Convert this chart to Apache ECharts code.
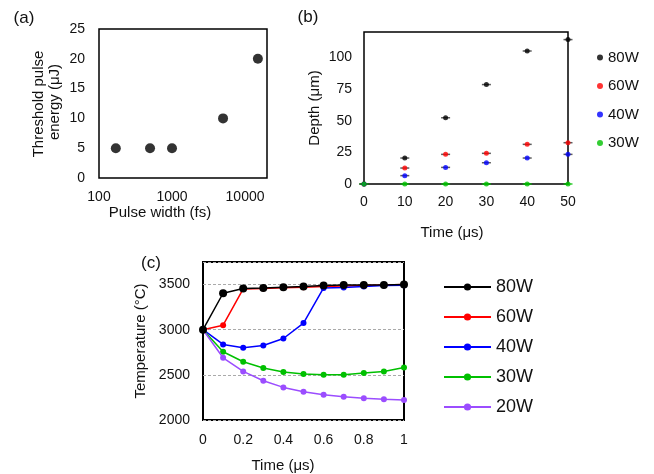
<!DOCTYPE html>
<html><head><meta charset="utf-8">
<script src="https://cdn.jsdelivr.net/npm/echarts@6/dist/echarts.min.js"></script>
<style>html,body{margin:0;padding:0;background:#fff}#c{width:654px;height:474px}</style>
</head><body><div id="c"></div>
<script>
// (a) threshold pulse energy vs pulse width
const pulseWidth = [170, 500, 1000, 5000, 15000];
const thresholdEnergy = [5, 5, 5, 10, 20];
// (b) depth vs time
const timeB = [0, 10, 20, 30, 40, 50];
const depth80 = [0, 20.5, 52.3, 78.5, 105, 114];
const depth60 = [0, 12.6, 23.4, 24.2, 31.3, 32.6];
const depth40 = [0, 6.6, 13.1, 16.8, 20.5, 23.4];
const depth30 = [0, 0, 0, 0, 0, 0];
// (c) temperature vs time
const timeC = [0, 0.1, 0.2, 0.3, 0.4, 0.5, 0.6, 0.7, 0.8, 0.9, 1.0];
const temp80 = [3000, 3404, 3456, 3463, 3471, 3478, 3489, 3496, 3496, 3496, 3500];
const temp60 = [3000, 3050, 3452, 3456, 3465, 3470, 3478, 3485, 3490, 3495, 3500];
const temp40 = [3000, 2837, 2800, 2826, 2903, 3073, 3463, 3467, 3478, 3489, 3493];
const temp30 = [3000, 2756, 2645, 2575, 2531, 2509, 2501, 2501, 2520, 2538, 2582];
const temp20 = [3000, 2689, 2538, 2435, 2361, 2313, 2280, 2258, 2240, 2229, 2221];
const powerNames = ['80W', '60W', '40W', '30W', '20W'];
const colors = ['#000000', '#ff0000', '#0000ff', '#00c000', '#9b4dff'];

const FONT = 'Liberation Sans, Arial, sans-serif';
const TXT = '#111';
const zip = (xs, ys) => xs.map((x, i) => [x, ys[i]]);
const fmt = v => String(Math.round(v * 1000) / 1000);

const chart = echarts.init(document.getElementById('c'), null, {renderer: 'canvas'});

const gridBase = {show: true, borderColor: '#000', borderWidth: 1.5, backgroundColor: 'transparent', containLabel: false, outerBoundsMode: 'none'};
const labelBase = {color: TXT, fontSize: 14, fontFamily: FONT};

const depthSets = [depth80, depth60, depth40, depth30];
const tempSets = [temp80, temp60, temp40, temp30, temp20];

const series = [];
// (a)
series.push({type: 'scatter', xAxisIndex: 0, yAxisIndex: 0, symbolSize: 10, itemStyle: {color: '#000'}, data: zip(pulseWidth, thresholdEnergy)});
// (b) small horizontal error dashes then dots
depthSets.forEach((d, i) => {
  series.push({type: 'scatter', name: 'bar' + i, xAxisIndex: 1, yAxisIndex: 1, symbol: 'rect', symbolSize: [9, 1.5], itemStyle: {color: i === 3 ? colors[3] : '#333'}, data: zip(timeB, d), z: 2});
});
depthSets.forEach((d, i) => {
  series.push({type: 'scatter', name: powerNames[i], xAxisIndex: 1, yAxisIndex: 1, symbol: 'circle', symbolSize: 5, itemStyle: {color: colors[i]}, data: zip(timeB, d), z: 3 + i});
});
// (c) lines
const zOrder = [10, 6, 7, 8, 9];
tempSets.forEach((d, i) => {
  series.push({type: 'line', name: powerNames[i] + ' ', xAxisIndex: 2, yAxisIndex: 2, symbol: 'circle', symbolSize: i === 0 ? 8 : 6, showSymbol: true,
    lineStyle: {color: colors[i], width: 1.5}, itemStyle: {color: colors[i]}, data: zip(timeC, d), z: zOrder[i], animation: false});
});

const gtext = (text, x, y, size, rot) => ({type: 'text', x: x, y: y, rotation: rot ? Math.PI / 2 : 0,
  style: {text: text, font: size + 'px ' + FONT, fill: TXT, align: 'center', verticalAlign: 'middle', textAlign: 'center', textVerticalAlign: 'middle'}});

chart.setOption({
  animation: false,
  backgroundColor: '#fff',
  grid: [
    Object.assign({left: 99, top: 29, width: 168, height: 149}, gridBase),
    Object.assign({left: 364, top: 32, width: 204, height: 152}, gridBase),
    Object.assign({left: 203, top: 262, width: 201, height: 158}, gridBase, {borderWidth: 2})
  ],
  xAxis: [
    {type: 'log', gridIndex: 0, min: 100, max: 20000, logBase: 10, axisLine: {show: false}, axisTick: {show: false}, splitLine: {show: false},
      axisLabel: Object.assign({margin: 12, showMaxLabel: false, formatter: v => String(Math.round(v))}, labelBase)},
    {type: 'value', gridIndex: 1, min: 0, max: 50, interval: 10, axisLine: {show: false}, axisTick: {show: false}, splitLine: {show: false},
      axisLabel: Object.assign({margin: 11, formatter: fmt}, labelBase)},
    {type: 'value', gridIndex: 2, min: 0, max: 1, interval: 0.2, axisLine: {show: false}, axisTick: {show: false}, splitLine: {show: false},
      axisLabel: Object.assign({margin: 13, formatter: fmt}, labelBase)}
  ],
  yAxis: [
    {type: 'value', gridIndex: 0, min: 0, max: 25, interval: 5, axisLine: {show: false}, axisTick: {show: false}, splitLine: {show: false},
      axisLabel: Object.assign({margin: 14, formatter: fmt}, labelBase)},
    {type: 'value', gridIndex: 1, min: 0, max: 120, interval: 25, axisLine: {show: false}, axisTick: {show: false}, splitLine: {show: false},
      axisLabel: Object.assign({margin: 12, showMaxLabel: false, formatter: fmt}, labelBase)},
    {type: 'value', gridIndex: 2, min: 2000, max: 3750, interval: 500, axisLine: {show: false}, axisTick: {show: false},
      splitLine: {show: true, lineStyle: {color: '#aaa', type: [3, 2], width: 1}},
      axisLabel: Object.assign({margin: 13, showMaxLabel: false, formatter: fmt}, labelBase)}
  ],
  legend: [
    {data: powerNames.slice(0, 4), orient: 'vertical', left: 597, top: 50, padding: 0, itemWidth: 6, itemHeight: 6, itemGap: 13.5, icon: 'circle',
      textStyle: {color: TXT, fontSize: 15, fontFamily: FONT, lineHeight: 15}, selectedMode: false},
    {data: powerNames.map(n => n + ' '), orient: 'vertical', left: 443, top: 278, padding: 0, itemWidth: 47, itemHeight: 9, itemGap: 12,
      textStyle: {color: TXT, fontSize: 18, fontFamily: FONT, lineHeight: 18}, selectedMode: false}
  ],
  graphic: [
    gtext('(a)', 24, 18, 17),
    gtext('(b)', 308, 17, 17),
    gtext('(c)', 151, 263, 17),
    gtext('Pulse width (fs)', 160, 213, 15),
    gtext('Threshold pulse', 38.5, 104, 15, true),
    gtext('energy (μJ)', 54.5, 102, 15, true),
    gtext('Depth (μm)', 315, 108, 15, true),
    gtext('Time (μs)', 452, 233, 15),
    gtext('Temperature (°C)', 141, 341, 15, true),
    gtext('Time (μs)', 283, 466, 15)
  ],
  series: series
});
</script></body></html>
